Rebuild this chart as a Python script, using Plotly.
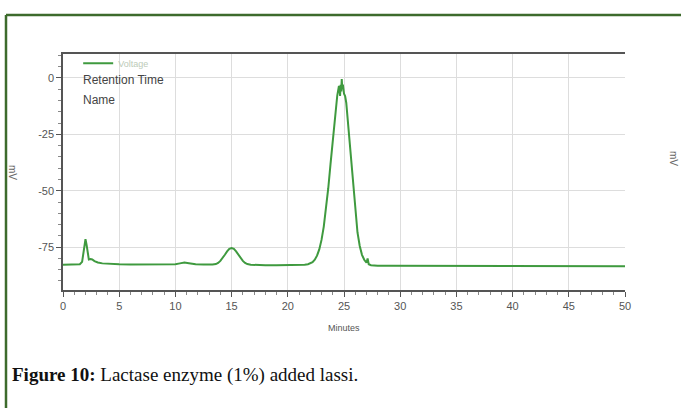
import plotly.graph_objects as go

# Chromatogram trace (time in minutes, signal in mV)
time_min = [0, 0.5, 1.0, 1.5, 1.7, 1.8, 1.9, 2.0, 2.1, 2.2, 2.3, 2.45, 2.6, 2.8, 3.1, 3.5, 4, 5,
            6, 7, 8, 9, 10, 10.4, 10.8, 11.2, 11.8, 12.5, 13.0, 13.3, 13.6, 13.8, 14.0, 14.2,
            14.4, 14.6, 14.8, 15.0, 15.2, 15.4, 15.6, 15.8, 16.0, 16.2, 16.4, 16.7, 17.0, 17.5,
            18, 19, 20, 21, 21.5, 21.8, 22.0, 22.2, 22.4, 22.6, 22.8, 23.0, 23.2, 23.4, 23.6,
            23.8, 24.0, 24.2, 24.4, 24.55, 24.6, 24.65, 24.7, 24.75, 24.8, 24.85, 24.9, 25.0,
            25.1, 25.2, 25.4, 25.6, 25.8, 26.0, 26.2, 26.4, 26.6, 26.8, 27.0, 27.1, 27.2, 27.4,
            27.7, 28, 29, 30, 32, 35, 38, 40, 43, 46, 50]
voltage = [-82.8, -82.8, -82.7, -82.6, -81.5, -78, -74, -71.5, -74, -78, -80.5, -80.3, -80.5,
           -81.2, -81.8, -82.2, -82.4, -82.6,
           -82.7, -82.7, -82.7, -82.7, -82.6, -82.2, -81.8, -82.1, -82.6, -82.7, -82.8, -82.7,
           -82.5, -82.0, -81.1, -79.9,
           -78.4, -76.9, -75.8, -75.4, -75.8, -76.9, -78.4, -79.9, -81.1, -82.0, -82.5, -82.8,
           -82.9, -83.0,
           -83.0, -83.0, -83.0, -82.9, -82.8, -82.6, -82.3, -81.7, -80.6, -78.8, -76.0, -71.8,
           -65.9, -58.3, -48.9,
           -38.2, -27.0, -16.6, -7.8, -3.5, -4.5, -8, -3, -6, -0.5, -5, -3, -7,
           -8, -11, -22.7, -36, -49, -59.9, -68.5, -74.5, -78.4, -80.6, -81.9, -80.0, -82.6,
           -83.0,
           -83.2, -83.3, -83.3, -83.3, -83.4, -83.4, -83.4, -83.4, -83.5, -83.5, -83.5]

x_ticks = [0, 5, 10, 15, 20, 25, 30, 35, 40, 45, 50]
y_ticks = [0, -25, -50, -75]
y_tick_labels = ["0", "-25", "-50", "-75"]

sans = "Liberation Sans, Arial, sans-serif"
tick_font = dict(family=sans, size=11, color="#555555")
axis_col = "#555555"
grid_col = "#dddddd"

fig = go.Figure()
fig.add_trace(go.Scatter(x=time_min, y=voltage, mode="lines", name="Voltage",
                         line=dict(color="#3f9a3f", width=2)))

fig.update_layout(
    width=681, height=408,
    margin=dict(l=63, r=56, t=54, b=118),
    paper_bgcolor="white", plot_bgcolor="white",
    showlegend=True,
    legend=dict(x=0.027, y=1.022, xanchor="left", yanchor="top", bgcolor="rgba(0,0,0,0)",
                font=dict(family=sans, size=9, color="#bccbb8"),
                tracegroupgap=0, itemwidth=30),
    xaxis=dict(range=[0, 50], tickvals=x_ticks, ticks="outside", ticklen=5, tickcolor=axis_col,
               showline=True, linecolor=axis_col, linewidth=1.5, mirror=True,
               showgrid=True, gridcolor=grid_col, gridwidth=1, zeroline=False,
               tickfont=tick_font,
               minor=dict(dtick=1, ticks="outside", ticklen=3, tickcolor="#888888", showgrid=False)),
    yaxis=dict(range=[-94, 10.6], tickvals=y_ticks, ticktext=y_tick_labels, ticks="outside",
               ticklen=5, tickcolor=axis_col, showline=True, linecolor=axis_col, linewidth=1.5,
               showgrid=True, gridcolor=grid_col, gridwidth=1, zeroline=False,
               tickfont=tick_font,
               minor=dict(dtick=5, ticks="outside", ticklen=3, tickcolor="#888888", showgrid=False)),
    yaxis2=dict(range=[-94, 10.6], overlaying="y", side="right", matches="y",
                tickvals=y_ticks, ticktext=y_tick_labels, ticks="outside", ticklen=5,
                tickcolor=axis_col, showline=True, linecolor=axis_col, linewidth=1.5,
                showgrid=False, zeroline=False, tickfont=tick_font,
                minor=dict(dtick=5, ticks="outside", ticklen=3, tickcolor="#888888")),
)

small_font = dict(family=sans, size=12, color="#444444")
fig.add_annotation(text="Retention Time", xref="paper", yref="paper", x=0.032, y=0.89,
                   xanchor="left", yanchor="middle", showarrow=False, font=small_font)
fig.add_annotation(text="Name", xref="paper", yref="paper", x=0.032, y=0.805,
                   xanchor="left", yanchor="middle", showarrow=False, font=small_font)
fig.add_annotation(text="Minutes", xref="paper", yref="paper", x=0.5, y=-0.161,
                   xanchor="center", yanchor="middle", showarrow=False,
                   font=dict(family=sans, size=9, color="#555555"))
for xp, yp in [((13 - 63) / 562, (290 - 172) / 236), ((674 - 63) / 562, (290 - 158) / 236)]:
    fig.add_annotation(text="mV", xref="paper", yref="paper", x=xp, y=yp, textangle=90,
                       xanchor="center", yanchor="middle", showarrow=False,
                       font=dict(family=sans, size=10, color="#666666"))

fig.add_annotation(text="<b>Figure 10:</b> Lactase enzyme (1%) added lassi.",
                   xref="paper", yref="paper", x=(10 - 63) / 562, y=(290 - 375) / 236,
                   xanchor="left", yanchor="middle", showarrow=False,
                   font=dict(family="Liberation Serif, DejaVu Serif, serif", size=19, color="#111111"))

frame_col = "#3d6b2c"
fig.add_shape(type="line", xref="paper", yref="paper", x0=(6 - 63) / 562, x1=(681 - 63) / 562,
              y0=(290 - 15) / 236, y1=(290 - 15) / 236, line=dict(color=frame_col, width=2.5))
fig.add_shape(type="line", xref="paper", yref="paper", x0=(6 - 63) / 562, x1=(6 - 63) / 562,
              y0=(290 - 15) / 236, y1=(290 - 410) / 236, line=dict(color=frame_col, width=2.5))

fig.write_html("out.html")
